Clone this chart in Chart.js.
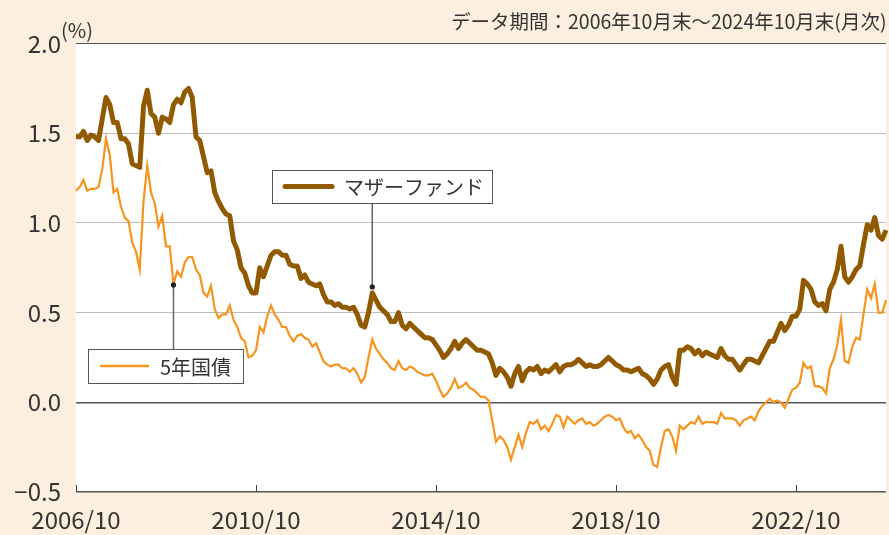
<!DOCTYPE html>
<html>
<head>
<meta charset="utf-8">
<script src="https://cdn.jsdelivr.net/npm/chart.js@4"></script>
<style>
  body { margin: 0; background: #fdefdf; }
  #chart { display: block; }
</style>
</head>
<body>
<canvas id="chart" width="889" height="535"></canvas>
<script>
const FONT = "'Noto Sans CJK JP', 'Noto Sans', sans-serif";

// monthly, 2006/10 - 2024/10
const months = [];
for (let y = 2006, m = 10; y < 2024 || (y === 2024 && m <= 10); m++) {
    if (m > 12) { m = 1; y++; }
    months.push(y + "/" + m);
}

const motherFund = [
    1.48, 1.48, 1.51, 1.46, 1.49, 1.48, 1.46, 1.58, 1.70, 1.66,
    1.56, 1.56, 1.47, 1.47, 1.44, 1.33, 1.32, 1.31, 1.65, 1.74,
    1.61, 1.59, 1.50, 1.59, 1.58, 1.56, 1.66, 1.69, 1.67, 1.73,
    1.75, 1.70, 1.48, 1.46, 1.37, 1.28, 1.29, 1.17, 1.12, 1.08,
    1.05, 1.04, 0.90, 0.85, 0.75, 0.72, 0.65, 0.61, 0.61, 0.75,
    0.70, 0.76, 0.82, 0.84, 0.84, 0.82, 0.82, 0.77, 0.76, 0.76,
    0.69, 0.71, 0.67, 0.66, 0.65, 0.66, 0.60, 0.56, 0.56, 0.54,
    0.55, 0.53, 0.53, 0.52, 0.53, 0.49, 0.43, 0.42, 0.50, 0.61,
    0.57, 0.53, 0.51, 0.49, 0.45, 0.45, 0.50, 0.43, 0.41, 0.44,
    0.42, 0.40, 0.38, 0.36, 0.36, 0.35, 0.32, 0.29, 0.25, 0.27,
    0.30, 0.34, 0.30, 0.33, 0.35, 0.33, 0.31, 0.29, 0.29, 0.28,
    0.27, 0.22, 0.15, 0.19, 0.17, 0.14, 0.09, 0.16, 0.20, 0.12,
    0.17, 0.19, 0.18, 0.20, 0.16, 0.18, 0.17, 0.19, 0.21, 0.17,
    0.20, 0.21, 0.21, 0.22, 0.24, 0.22, 0.20, 0.21, 0.20, 0.20,
    0.21, 0.23, 0.25, 0.23, 0.21, 0.20, 0.18, 0.18, 0.17, 0.18,
    0.19, 0.16, 0.15, 0.13, 0.10, 0.13, 0.18, 0.20, 0.21, 0.14,
    0.10, 0.29, 0.29, 0.31, 0.30, 0.27, 0.29, 0.26, 0.28, 0.27,
    0.26, 0.25, 0.30, 0.26, 0.24, 0.24, 0.21, 0.18, 0.21, 0.24,
    0.24, 0.23, 0.22, 0.26, 0.30, 0.34, 0.34, 0.39, 0.44, 0.40,
    0.43, 0.48, 0.48, 0.52, 0.68, 0.66, 0.63, 0.56, 0.54, 0.55,
    0.51, 0.63, 0.67, 0.74, 0.87, 0.70, 0.67, 0.70, 0.74, 0.76,
    0.88, 0.99, 0.96, 1.03, 0.93, 0.91, 0.96
];

const jgb5y = [
    1.18, 1.20, 1.24, 1.18, 1.19, 1.19, 1.20, 1.30, 1.47, 1.38,
    1.17, 1.19, 1.09, 1.03, 1.01, 0.89, 0.84, 0.74, 1.12, 1.32,
    1.17, 1.11, 0.98, 1.04, 0.87, 0.87, 0.66, 0.73, 0.70, 0.78,
    0.81, 0.81, 0.74, 0.71, 0.61, 0.59, 0.65, 0.52, 0.47, 0.49,
    0.49, 0.54, 0.46, 0.42, 0.36, 0.34, 0.25, 0.26, 0.29, 0.42,
    0.39, 0.48, 0.54, 0.49, 0.46, 0.42, 0.42, 0.37, 0.34, 0.37,
    0.38, 0.36, 0.35, 0.31, 0.33, 0.28, 0.23, 0.21, 0.20, 0.21,
    0.21, 0.19, 0.19, 0.17, 0.19, 0.16, 0.11, 0.14, 0.25, 0.35,
    0.30, 0.27, 0.24, 0.22, 0.19, 0.18, 0.23, 0.19, 0.18, 0.20,
    0.19, 0.17, 0.16, 0.15, 0.15, 0.16, 0.12, 0.07, 0.03, 0.05,
    0.08, 0.13, 0.08, 0.09, 0.11, 0.08, 0.07, 0.05, 0.03, 0.03,
    0.01, -0.10, -0.22, -0.19, -0.21, -0.25, -0.32, -0.25, -0.18, -0.25,
    -0.17, -0.11, -0.12, -0.10, -0.15, -0.13, -0.16, -0.12, -0.07, -0.08,
    -0.14, -0.08, -0.10, -0.12, -0.10, -0.09, -0.12, -0.11, -0.13, -0.12,
    -0.10, -0.08, -0.07, -0.08, -0.10, -0.09, -0.14, -0.17, -0.16, -0.20,
    -0.18, -0.21, -0.25, -0.27, -0.35, -0.36, -0.25, -0.16, -0.15, -0.19,
    -0.27, -0.13, -0.15, -0.13, -0.11, -0.12, -0.08, -0.12, -0.11, -0.11,
    -0.11, -0.12, -0.06, -0.09, -0.09, -0.09, -0.10, -0.13, -0.10, -0.09,
    -0.08, -0.10, -0.05, -0.02, 0.00, 0.02, 0.00, 0.01, 0.00, -0.03,
    0.02, 0.07, 0.08, 0.11, 0.22, 0.19, 0.20, 0.09, 0.09, 0.08,
    0.05, 0.19, 0.24, 0.32, 0.46, 0.23, 0.22, 0.31, 0.36, 0.35,
    0.49, 0.63, 0.58, 0.66, 0.50, 0.50, 0.57
];

const xTickLabels = ["2006/10", "2010/10", "2014/10", "2018/10", "2022/10"];
const yTicks = [-0.5, 0, 0.5, 1.0, 1.5, 2.0];

const seriesNames = ["マザーファンド", "5年国債"];
const seriesColors = ["#915a00", "#f7941d"];
const periodNote = "データ期間：2006年10月末～2024年10月末(月次)";

// legend callouts: box + leader line down/up to the series
const callouts = [
    { series: 0, index: 79, box: [272, 170, 220, 33], lineW: 5, dy: -6 },
    { series: 1, index: 26, box: [88, 349, 155, 34], lineW: 2.5, dy: 1 },
];

const overlay = {
    id: "overlay",
    beforeDraw(chart) {
        const { ctx, chartArea: a } = chart;
        ctx.save();
        ctx.fillStyle = "#ffffff";
        ctx.fillRect(a.left, a.top, a.right - a.left, a.bottom - a.top);
        ctx.restore();
    },
    afterDraw(chart) {
        const { ctx, chartArea: a } = chart;
        const xs = chart.scales.x;
        const ys = chart.scales.y;
        ctx.save();

        // small upward ticks on the time axis
        ctx.strokeStyle = "#444";
        ctx.lineWidth = 1;
        months.forEach((m, i) => {
            if (!xTickLabels.includes(m)) return;
            const px = Math.round(xs.getPixelForValue(i)) + 0.5;
            ctx.beginPath();
            ctx.moveTo(px, a.bottom);
            ctx.lineTo(px, a.bottom - 7);
            ctx.stroke();
        });

        ctx.fillStyle = "#333";
        ctx.textBaseline = "middle";
        ctx.textAlign = "left";
        ctx.font = "20px " + FONT;
        ctx.fillText("(%)", 61, 30);
        ctx.font = "19.5px " + FONT;
        ctx.fillText(periodNote, 451, 22);

        const data = [motherFund, jgb5y];
        callouts.forEach(c => {
            const px = xs.getPixelForValue(c.index);
            const py = ys.getPixelForValue(data[c.series][c.index]) + c.dy;
            const [bx, by, bw, bh] = c.box;
            const edge = py < by ? by : by + bh;

            ctx.strokeStyle = "#666";
            ctx.lineWidth = 1.5;
            ctx.beginPath();
            ctx.moveTo(px, py);
            ctx.lineTo(px, edge);
            ctx.stroke();
            ctx.fillStyle = "#222";
            ctx.beginPath();
            ctx.arc(px, py, 2.6, 0, Math.PI * 2);
            ctx.fill();

            ctx.fillStyle = "#ffffff";
            ctx.fillRect(bx, by, bw, bh);
            ctx.strokeStyle = "#555";
            ctx.lineWidth = 1;
            ctx.strokeRect(bx + 0.5, by + 0.5, bw, bh);

            ctx.strokeStyle = seriesColors[c.series];
            ctx.lineWidth = c.lineW;
            ctx.lineCap = "round";
            ctx.beginPath();
            ctx.moveTo(bx + 13, by + bh / 2);
            ctx.lineTo(bx + 60, by + bh / 2);
            ctx.stroke();
            ctx.lineCap = "butt";

            ctx.fillStyle = "#333";
            ctx.font = "20px " + FONT;
            ctx.fillText(seriesNames[c.series], bx + 72, by + bh / 2 + 1);
        });

        ctx.restore();
    },
};

const chart = new Chart(document.getElementById("chart"), {
    type: "line",
    plugins: [overlay],
    data: {
        labels: months,
        datasets: [
            {
                label: seriesNames[1],
                data: jgb5y,
                borderColor: seriesColors[1],
                borderWidth: 2.2,
                pointRadius: 0,
                tension: 0,
            },
            {
                label: seriesNames[0],
                data: motherFund,
                borderColor: seriesColors[0],
                borderWidth: 5,
                pointRadius: 0,
                tension: 0,
                borderJoinStyle: "round",
            },
        ],
    },
    options: {
        responsive: false,
        devicePixelRatio: 1,
        animation: false,
        layout: { padding: { left: 0, right: 3, top: 43.6, bottom: 0 } },
        plugins: {
            legend: { display: false },
            tooltip: { enabled: false },
        },
        scales: {
            x: {
                offset: false,
                grid: { display: false },
                border: { display: false },
                afterFit: (s) => {
                    s.height = 43;
                    s.paddingLeft = 0;
                    s.paddingRight = 0;
                },
                ticks: {
                    autoSkip: false,
                    maxRotation: 0,
                    minRotation: 0,
                    padding: 5,
                    color: "#333",
                    font: { family: FONT, size: 24 },
                    callback: (v, i) => xTickLabels.includes(months[i]) ? months[i] : "",
                },
            },
            y: {
                min: -0.5,
                max: 2.0,
                afterFit: (s) => { s.width = 76; },
                afterBuildTicks: (s) => { s.ticks = yTicks.map(v => ({ value: v })); },
                border: { display: false },
                grid: {
                    drawTicks: false,
                    color: (c) => (c.tick.value === 0 || c.tick.value === -0.5 || c.tick.value === 2) ? "#555" : "#bcbcbc",
                    lineWidth: (c) => (c.tick.value === 0 || c.tick.value === -0.5) ? 1.6 : 1,
                },
                ticks: {
                    padding: 15,
                    color: "#333",
                    font: { family: FONT, size: 24 },
                    callback: (v) => v < 0 ? "−" + Math.abs(v).toFixed(1) : v.toFixed(1),
                },
            },
        },
    },
});
</script>
</body>
</html>
